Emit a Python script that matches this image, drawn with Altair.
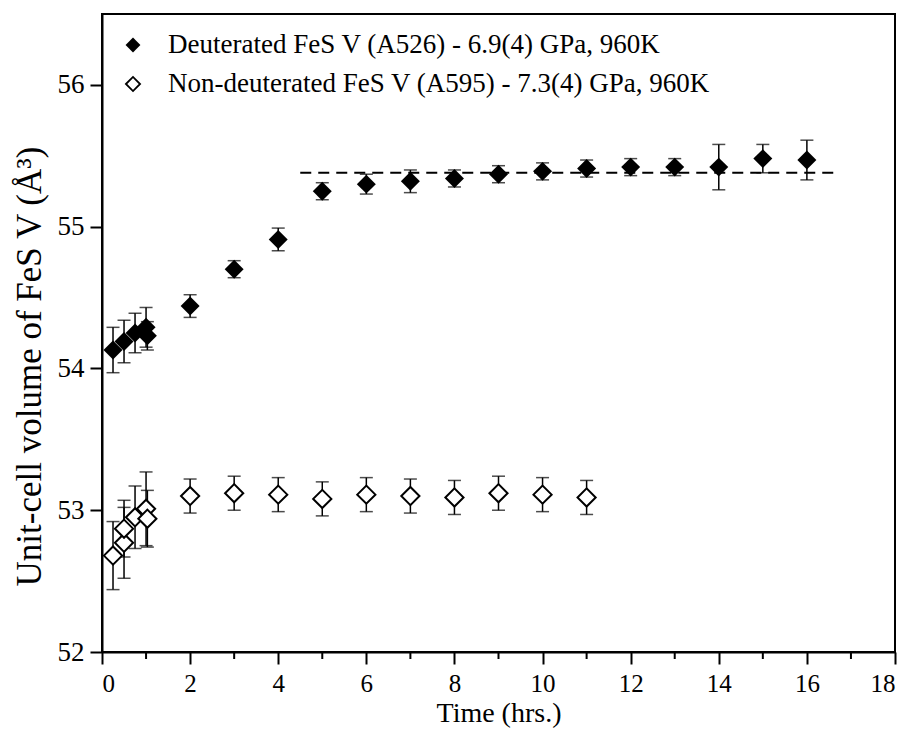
import altair as alt
import pandas as pd

# Deuterated FeS V (A526)
d_time = [0.25, 0.5, 0.75, 1.0, 1.03, 2, 3, 4, 5, 6, 7, 8, 9, 10, 11, 12, 13, 14, 15, 16]
d_vol = [54.13, 54.19, 54.25, 54.29, 54.23, 54.44, 54.70, 54.91, 55.25, 55.30, 55.32,
         55.34, 55.37, 55.39, 55.41, 55.42, 55.42, 55.42, 55.48, 55.47]
d_err = [0.16, 0.15, 0.14, 0.14, 0.10, 0.08, 0.06, 0.08, 0.06, 0.07, 0.08,
         0.06, 0.06, 0.06, 0.06, 0.06, 0.06, 0.16, 0.10, 0.14]

# Non-deuterated FeS V (A595)
n_time = [0.25, 0.5, 0.5, 0.75, 1.0, 1.03, 2, 3, 4, 5, 6, 7, 8, 9, 10, 11]
n_vol = [52.68, 52.77, 52.87, 52.95, 53.01, 52.94, 53.10, 53.12, 53.11, 53.08,
         53.11, 53.10, 53.09, 53.12, 53.11, 53.09]
n_err = [0.24, 0.25, 0.20, 0.22, 0.26, 0.20, 0.12, 0.12, 0.12, 0.12,
         0.12, 0.12, 0.12, 0.12, 0.12, 0.12]

# plateau guide line
plateau_time = [4.5, 16.6]
plateau_vol = [55.38, 55.38]

x_major = list(range(0, 19, 2))
x_minor = list(range(1, 18, 2))
y_major = [52, 53, 54, 55, 56]

legend_labels = ["Deuterated FeS V (A526) - 6.9(4) GPa, 960K",
                 "Non-deuterated FeS V (A595) - 7.3(4) GPa, 960K"]

FONT = "Liberation Serif"

dd = pd.DataFrame({"t": d_time, "v": d_vol, "lo": [v - e for v, e in zip(d_vol, d_err)],
                   "hi": [v + e for v, e in zip(d_vol, d_err)]})
nd = pd.DataFrame({"t": n_time, "v": n_vol, "lo": [v - e for v, e in zip(n_vol, n_err)],
                   "hi": [v + e for v, e in zip(n_vol, n_err)]})
pl = pd.DataFrame({"t": plateau_time, "v": plateau_vol})
mn = pd.DataFrame({"t": x_minor})

xs = alt.Scale(domain=[0, 18], nice=False)
ys = alt.Scale(domain=[52, 56.5], nice=False, zero=False)

x_enc = alt.X("t:Q", scale=xs, title="Time (hrs.)",
              axis=alt.Axis(values=x_major, format="d", tickSize=12, labelPadding=7,
                            labelFontSize=25, titlePadding=3, titleFontSize=28))
y_enc = alt.Y("v:Q", scale=ys, title="Unit-cell volume of  FeS V (Å³)",
              axis=alt.Axis(values=y_major, format="d", tickSize=12, labelPadding=6,
                            labelFontSize=27, titlePadding=10, titleFontSize=35,
                            titleY=352))


def error_layers(df):
    base = alt.Chart(df)
    bars = base.mark_rule(color="black", strokeWidth=1.5).encode(
        x=alt.X("t:Q", scale=xs), y=alt.Y("lo:Q", scale=ys), y2="hi:Q")
    cap_lo = base.mark_tick(color="black", orient="horizontal", size=13, thickness=1.5).encode(
        x=alt.X("t:Q", scale=xs), y=alt.Y("lo:Q", scale=ys))
    cap_hi = base.mark_tick(color="black", orient="horizontal", size=13, thickness=1.5).encode(
        x=alt.X("t:Q", scale=xs), y=alt.Y("hi:Q", scale=ys))
    return [bars, cap_lo, cap_hi]


axes_layer = alt.Chart(dd).mark_point(opacity=0).encode(x=x_enc, y=y_enc)

# short outward minor ticks on the time axis
minor_ticks = alt.Chart(mn).mark_rule(color="black", strokeWidth=2).encode(
    x=alt.X("t:Q", scale=xs), y=alt.value(638), y2=alt.value(645))

plateau = alt.Chart(pl).mark_line(color="black", strokeWidth=2, strokeDash=[11, 7]).encode(
    x=alt.X("t:Q", scale=xs), y=alt.Y("v:Q", scale=ys))

d_pts = alt.Chart(dd).mark_point(shape="diamond", filled=True, color="black", size=360,
                                 opacity=1).encode(
    x=alt.X("t:Q", scale=xs), y=alt.Y("v:Q", scale=ys))
n_pts = alt.Chart(nd).mark_point(shape="diamond", filled=True, fill="white", stroke="black",
                                 strokeWidth=2, size=330, opacity=1).encode(
    x=alt.X("t:Q", scale=xs), y=alt.Y("v:Q", scale=ys))

# legend drawn inside the plot area
leg_df = pd.DataFrame({"label": legend_labels, "row": [0, 1]})
leg_sym_d = alt.Chart(leg_df.iloc[[0]]).mark_point(
    shape="diamond", filled=True, color="black", size=220, opacity=1).encode(
    x=alt.value(31), y=alt.value(31))
leg_sym_n = alt.Chart(leg_df.iloc[[1]]).mark_point(
    shape="diamond", filled=True, fill="white", stroke="black", strokeWidth=1.8,
    size=200, opacity=1).encode(x=alt.value(31), y=alt.value(70))
leg_txt_d = alt.Chart(leg_df.iloc[[0]]).mark_text(
    align="left", baseline="middle", font=FONT, fontSize=27, color="black").encode(
    x=alt.value(66), y=alt.value(31), text="label:N")
leg_txt_n = alt.Chart(leg_df.iloc[[1]]).mark_text(
    align="left", baseline="middle", font=FONT, fontSize=27, color="black").encode(
    x=alt.value(66), y=alt.value(70), text="label:N")

chart = alt.layer(
    axes_layer, minor_ticks, plateau,
    *error_layers(dd), *error_layers(nd),
    d_pts, n_pts,
    leg_sym_d, leg_sym_n, leg_txt_d, leg_txt_n,
).properties(
    width=793, height=638,
    autosize=alt.AutoSizeParams(type="none"),
    padding={"left": 102, "top": 14, "right": 15, "bottom": 79},
    background="white",
).configure_view(
    stroke="black", strokeWidth=2
).configure_axis(
    grid=False, domainColor="black", domainWidth=2, tickColor="black", tickWidth=2,
    labelFont=FONT, labelColor="black",
    titleFont=FONT, titleColor="black", titleFontWeight="normal",
)

chart.save("out.html", embed_options={"renderer": "svg", "actions": False})
